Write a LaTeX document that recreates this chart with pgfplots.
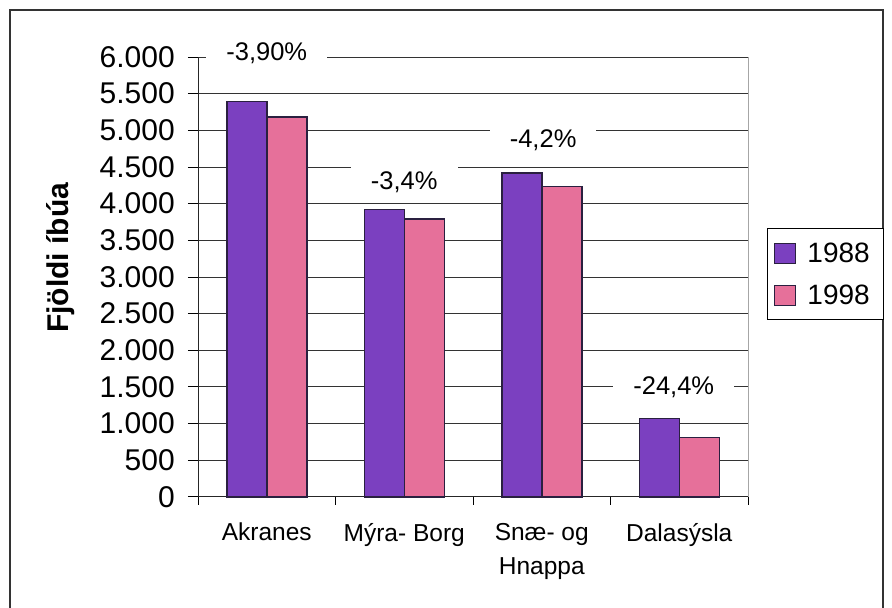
\documentclass[border=0pt]{standalone}
\usepackage{fontspec}
\setmainfont{Liberation Sans}
\usepackage{pgfplots}
\pgfplotsset{compat=1.18}
\definecolor{barpurple}{HTML}{7B40C0}
\definecolor{barpink}{HTML}{E6709A}
\definecolor{edge}{HTML}{2A2040}
\pgfplotsset{sqlegend/.style={legend image code/.code={\draw[##1, line width=1.2pt] (0pt,-10pt) rectangle (21pt,10pt); \path[draw=none, fill=none] (-3pt,0pt) -- (26pt,0pt);}}}
\begin{document}
\begin{tikzpicture}[x=1pt,y=1pt]
\path[use as bounding box] (0,0) rectangle (892,608);
\draw[line width=1.2pt, black!80] (10,-5) -- (10,598) -- (883,598) -- (883,-5);
\begin{axis}[
  at={(198pt,111pt)}, anchor=south west,
  scale only axis, width=550pt, height=440pt,
  xmin=-0.5, xmax=3.5, ymin=0, ymax=6000,
  ybar=0pt, bar width=40pt,
  axis lines*=left,
  axis line style={black!85, line width=1pt},
  clip=false,
  ytick={0,500,...,6000},
  ymajorgrids,
  grid style={black!80, line width=1pt},
  tick align=outside,
  major tick length=10pt,
  minor tick length=8pt,
  xtick={0,1,2,3},
  xticklabels={Akranes, Mýra- Borg, {Snæ- og\\Hnappa}, Dalasýsla},
  minor xtick={-0.5,0.5,1.5,2.5,3.5},
  major x tick style={draw=none},
  minor x tick style={black, line width=1pt},
  major y tick style={black, line width=1pt},
  xticklabel style={font=\fontsize{24.5}{34}\selectfont, align=center, anchor=north, inner sep=0pt, yshift=-16pt},
  yticklabel style={font=\fontsize{30}{30}\selectfont, anchor=east, inner sep=0pt, xshift=-13pt},
  /pgf/number format/.cd, 1000 sep={.}, assume math mode=true,
  /pgfplots/.cd,
  legend style={at={(1.0345,0.611)}, anchor=north west, draw=black, line width=1pt,
    font=\fontsize{28}{28}\selectfont, inner xsep=4pt, inner ysep=12pt, row sep=17pt,
    cells={anchor=west}},
]
\addplot[fill=barpurple, draw=edge, line width=1.5pt, sqlegend]
  coordinates {(0,5390) (1,3920) (2,4420) (3,1070)};
\addplot[fill=barpink, draw=edge, line width=1.5pt, sqlegend]
  coordinates {(0,5180) (1,3790) (2,4235) (3,810)};
\legend{\kern5pt 1988\kern8pt, \kern5pt 1998\kern8pt}
\draw[black!35, line width=1pt] (rel axis cs:1,0) -- (rel axis cs:1,1);
\node[fill=white, inner xsep=20pt, inner ysep=6pt, font=\fontsize{25.5}{25}\selectfont] at (axis cs:0,6055) {-3,90\%};
\node[fill=white, inner xsep=20pt, inner ysep=6pt, font=\fontsize{25.5}{25}\selectfont] at (axis cs:1,4296) {-3,4\%};
\node[fill=white, inner xsep=20pt, inner ysep=6pt, font=\fontsize{25.5}{25}\selectfont] at (axis cs:2.01,4868) {-4,2\%};
\node[fill=white, inner xsep=20pt, inner ysep=6pt, font=\fontsize{25.5}{25}\selectfont] at (axis cs:2.96,1500) {-24,4\%};
\end{axis}
\node[rotate=90, font=\fontsize{30}{30}\selectfont\bfseries] at (61,350) {Fjöldi íbúa};
\end{tikzpicture}
\end{document}
